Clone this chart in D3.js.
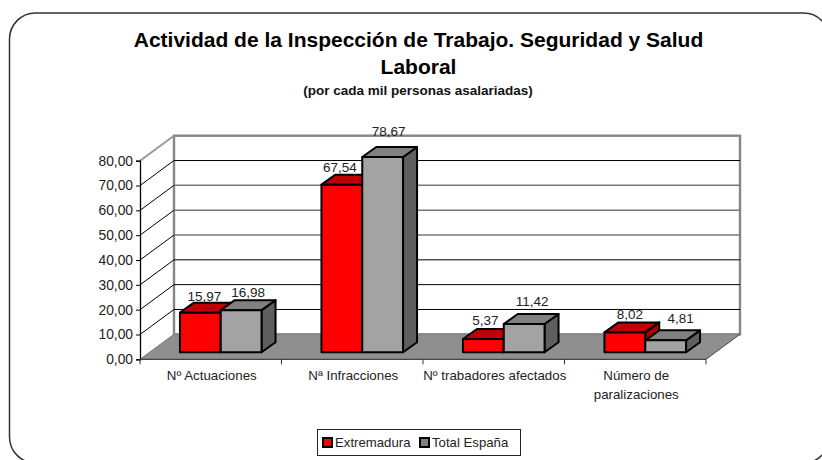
<!DOCTYPE html>
<html><head><meta charset="utf-8">
<script src="https://cdn.jsdelivr.net/npm/d3@7"></script>
<style>html,body{margin:0;padding:0;background:#fff;overflow:hidden}svg{display:block}text{font-family:"Liberation Sans",Arial,sans-serif;fill:#111}</style>
</head><body><div id="c"></div>
<script>
const categories = ["Nº Actuaciones", "Nª Infracciones", "Nº trabadores afectados", "Número de|paralizaciones"];
const seriesNames = ["Extremadura", "Total España"];
const extremadura = [15.97, 67.54, 5.37, 8.02];
const totalEspana = [16.98, 78.67, 11.42, 4.81];
const yTicks = [0, 10, 20, 30, 40, 50, 60, 70, 80];
const titleLines = ["Actividad de la Inspección de Trabajo. Seguridad y Salud", "Laboral"];
const subtitle = "(por cada mil personas asalariadas)";

const W = 822, H = 460;
const svg = d3.select("#c").append("svg").attr("width", W).attr("height", H);
const fmt = d => d.toFixed(2).replace(".", ",");

// frame
svg.append("rect").attr("x", 9.5).attr("y", 13).attr("width", 820).attr("height", 450).attr("rx", 26)
  .attr("fill", "#fff").attr("stroke", "#333").attr("stroke-width", 1.5);

// titles
titleLines.forEach((t, i) => svg.append("text").attr("x", 418.5).attr("y", 47 + i * 26.5)
  .attr("text-anchor", "middle").attr("font-size", 21).attr("font-weight", "bold").attr("style", "fill:#000").text(t));
svg.append("text").attr("x", 418).attr("y", 95).attr("text-anchor", "middle")
  .attr("font-size", 13.5).attr("font-weight", "bold").text(subtitle);

// scales: front plane of the 3D box
const x = d3.scaleBand().domain(categories).range([140, 706]);
const y = d3.scaleLinear().domain([0, 80]).range([359.3, 160.7]);
const depth = { dx: 34, dy: -25 };
const barOff = { dx: 10, dy: -7 };
const barDepth = { dx: 14, dy: -10 };
const g = svg.append("g");
const pts = a => a.map(p => p.join(",")).join(" ");

// floor
const y0 = y(0), y80 = y(80), xL = 140, xR = 706;
g.append("polygon").attr("points", pts([[xL, y0], [xL + depth.dx, y0 + depth.dy], [xR + depth.dx, y0 + depth.dy], [xR, y0]]))
  .attr("fill", "#8f8f8f");

// back wall
g.append("rect").attr("x", xL + depth.dx).attr("y", y80 + depth.dy).attr("width", xR - xL).attr("height", y0 - y80)
  .attr("fill", "none").attr("stroke", "#868686").attr("stroke-width", 2.4);

// grid
const grayGrid = [40, 50, 60];
yTicks.slice(1, -1).forEach(d => {
  const gray = grayGrid.includes(d);
  g.append("line").attr("x1", xL + depth.dx).attr("x2", xR + depth.dx).attr("y1", y(d) + depth.dy).attr("y2", y(d) + depth.dy)
    .attr("stroke", gray ? "#777" : "#000").attr("stroke-width", gray ? 1.5 : 1);
});
yTicks.forEach(d => {
  const top = d === 80;
  g.append("line").attr("x1", xL).attr("y1", y(d)).attr("x2", xL + depth.dx).attr("y2", y(d) + depth.dy)
    .attr("stroke", top ? "#999" : (d === 0 ? "#777" : "#000")).attr("stroke-width", top ? 2 : 1);
});
// right floor edge
g.append("line").attr("x1", xR).attr("y1", y0).attr("x2", xR + depth.dx).attr("y2", y0 + depth.dy).attr("stroke", "#444");

// axes
const yAxis = g.append("g").attr("transform", `translate(${xL},0)`)
  .call(d3.axisLeft(y).tickValues(yTicks).tickFormat(fmt).tickSize(4).tickPadding(3));
yAxis.select(".domain").attr("stroke", "#000").attr("stroke-width", 1.3);
yAxis.selectAll("text").attr("font-size", 13.8).attr("font-family", '"Liberation Sans"').attr("style", "fill:#222");

const xEdges = d3.range(categories.length + 1).map(i => xL + i * x.step());
g.append("line").attr("x1", xL).attr("x2", xR).attr("y1", y0).attr("y2", y0).attr("stroke", "#444").attr("stroke-width", 1.3);
xEdges.forEach(e => g.append("line").attr("x1", e).attr("x2", e).attr("y1", y0).attr("y2", y0 + 5).attr("stroke", "#333"));

categories.forEach(c => {
  c.split("|").forEach((t, i) => g.append("text").attr("x", x(c) + x.step() / 2 + 1).attr("y", 380 + i * 18.5)
    .attr("text-anchor", "middle").attr("font-size", 13.3).attr("style", "fill:#222").text(t));
});

// bars
const inner = d3.scaleBand().domain(seriesNames).range([0, 81.6]);
const colors = {
  [seriesNames[0]]: { front: "#ff0000", top: "#c00000", side: "#b00000" },
  [seriesNames[1]]: { front: "#a3a3a3", top: "#808080", side: "#5f5f5f" }
};
const series = [[seriesNames[0], extremadura], [seriesNames[1], totalEspana]];
const bars = g.append("g").attr("stroke", "#000").attr("stroke-width", 2).attr("stroke-linejoin", "round");
function bar(cat, name, v) {
  const cx = x(cat) + x.step() / 2 - 40.8 + barOff.dx;
  const l = cx + inner(name), r = l + inner.bandwidth();
  const b = y0 + barOff.dy, t = y(v) + barOff.dy;
  const c = colors[name], dx = barDepth.dx, dy = barDepth.dy;
  bars.append("polygon").attr("points", pts([[r, t], [r + dx, t + dy], [r + dx, b + dy], [r, b]])).attr("fill", c.side);
  bars.append("polygon").attr("points", pts([[l, t], [l + dx, t + dy], [r + dx, t + dy], [r, t]])).attr("fill", c.top);
  bars.append("rect").attr("x", l).attr("y", t).attr("width", r - l).attr("height", b - t).attr("fill", c.front);
}
categories.forEach((c, i) => {
  bar(c, seriesNames[0], extremadura[i]);
  bar(c, seriesNames[1], totalEspana[i]);
});

// data labels, nudged like the spreadsheet's label placement
const labelShift = [[[4, -12], [7, -13]], [[-2, -13], [6, -21]], [[2, -14], [8, -18]], [[5, -13], [15, -17]]];
categories.forEach((c, i) => series.forEach(([name, vals], j) => {
  const cx = x(c) + x.step() / 2 - 40.8 + barOff.dx + inner(name) + inner.bandwidth() / 2;
  g.append("text").attr("x", cx + labelShift[i][j][0]).attr("y", y(vals[i]) + barOff.dy + labelShift[i][j][1])
    .attr("text-anchor", "middle").attr("font-size", 13.5).attr("style", "fill:#222").text(fmt(vals[i]));
}));

// legend
const lg = svg.append("g");
lg.append("rect").attr("x", 317.5).attr("y", 429.5).attr("width", 203).attr("height", 26).attr("fill", "#fff").attr("stroke", "#222");
const swX = [322, 419], swFill = ["#ff0000", "#808080"];
seriesNames.forEach((n, i) => {
  lg.append("rect").attr("x", swX[i] + 1).attr("y", 438).attr("width", 9).attr("height", 9).attr("fill", swFill[i]).attr("stroke", "#000").attr("stroke-width", 2);
  lg.append("text").attr("x", swX[i] + 13).attr("y", 447).attr("font-size", 13.2).attr("style", "fill:#222").text(n);
});
</script></body></html>
